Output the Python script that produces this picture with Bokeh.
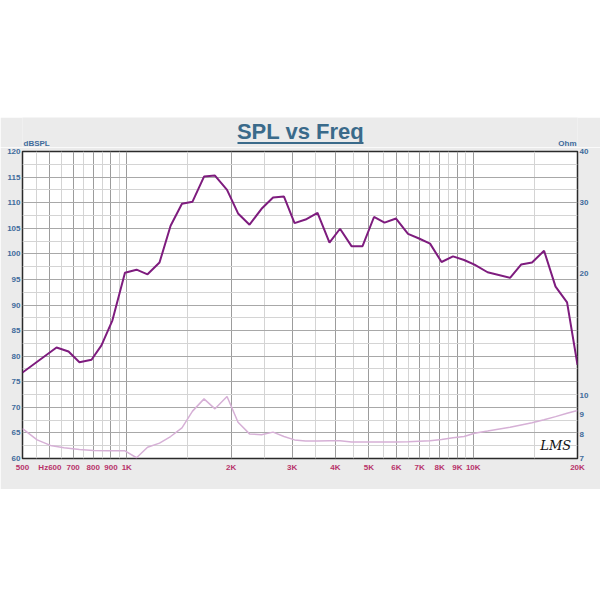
from bokeh.plotting import figure
from bokeh.layouts import column
from bokeh.models import (Range1d, LogScale, LogAxis, FixedTicker, Grid, Label, Spacer)
from bokeh.embed import file_html
from bokeh.resources import INLINE

# ---- data ----
spl_freq = [500, 627, 679, 730, 791, 845, 909, 988, 1067, 1148, 1243, 1338, 1443, 1548,
            1671, 1797, 1947, 2095, 2261, 2449, 2644, 2843, 3050, 3281, 3553, 3847, 4126,
            4453, 4792, 5172, 5546, 5987, 6484, 6976, 7507, 8102, 8745, 9410, 10085, 11002,
            12775, 13745, 14785, 16015, 17285, 18660, 20000]
spl_db = [76.8, 81.7, 80.9, 78.8, 79.3, 82.1, 87.0, 96.3, 96.9, 96.0, 98.3, 105.5, 109.8,
          110.2, 115.1, 115.3, 112.5, 107.9, 105.7, 108.8, 111.0, 111.2, 106.0, 106.7, 108.0,
          102.2, 104.9, 101.5, 101.5, 107.2, 106.1, 106.9, 103.9, 103.0, 102.0, 98.4, 99.5,
          98.8, 97.9, 96.4, 95.3, 97.9, 98.3, 100.6, 93.6, 90.5, 78.3]

imp_freq = [500, 551, 602, 659, 730, 801, 880, 988, 1067, 1148, 1243, 1338, 1443, 1548,
            1671, 1797, 1947, 2095, 2261, 2449, 2644, 2843, 3050, 3281, 3553, 3847, 4126,
            4453, 4792, 5172, 5546, 5987, 6484, 6976, 7507, 8102, 8745, 9410, 10085, 11002,
            12775, 13745, 14785, 16015, 17285, 18660, 20000]
imp_ohm = [8.29, 7.78, 7.54, 7.44, 7.37, 7.33, 7.32, 7.31, 7.03, 7.46, 7.64, 7.93, 8.33,
           9.16, 9.82, 9.28, 9.95, 8.60, 8.05, 8.01, 8.13, 7.93, 7.78, 7.73, 7.73, 7.74,
           7.74, 7.69, 7.69, 7.69, 7.69, 7.69, 7.70, 7.72, 7.74, 7.80, 7.87, 7.93, 8.08,
           8.18, 8.36, 8.47, 8.58, 8.72, 8.88, 9.05, 9.19]

x_ticks = [500, 600, 700, 800, 900, 1000, 2000, 3000, 4000, 5000, 6000, 7000, 8000, 9000,
           10000, 20000]
x_tick_labels = ["500", "Hz600", "700", "800", "900", "1K", "2K", "3K", "4K", "5K", "6K",
                 "7K", "8K", "9K", "10K", "20K"]
x_grid_major = [600, 700, 800, 900, 1000, 2000, 3000, 4000, 5000, 6000, 7000, 8000, 9000, 10000]
x_grid_minor = [550, 650, 750, 850, 950, 1500, 2500, 3500, 4500, 5500, 6500, 7500, 8500,
                9500, 15000]
y_ticks = [60, 65, 70, 75, 80, 85, 90, 95, 100, 105, 110, 115, 120]
y_grid_major = [65, 70, 75, 80, 85, 90, 95, 100, 105, 110, 115]
y_grid_minor = [62.5, 67.5, 72.5, 77.5, 82.5, 87.5, 92.5, 97.5, 102.5, 107.5, 112.5, 117.5]
ohm_ticks = [7, 8, 9, 10, 20, 30, 40]

title_text = "SPL vs Freq"
left_unit = "dBSPL"
right_unit = "Ohm"

# ---- styles ----
FONT = "Liberation Sans"
BLUE = "#3f6c9c"
RED = "#b8336a"
TITLE = "#3a6a8a"
GRAY = "#ebebeb"

# ---- header strip (title + unit labels); its frame is aligned with the chart frame ----
t = figure(width=600, height=30, x_range=Range1d(22, 577), y_range=Range1d(0, 30),
           x_axis_location=None, y_axis_location=None,
           output_backend="svg", toolbar_location=None,
           min_border=0, min_border_left=0, min_border_right=0,
           min_border_top=0, min_border_bottom=0)
t.grid.visible = False
t.outline_line_color = None
t.background_fill_color = GRAY
t.border_fill_color = GRAY
t.add_layout(Label(x=300, y=16.3, text=title_text, text_align="center",
                   text_baseline="middle", text_font=FONT, text_font_style="bold",
                   text_font_size="22px", text_color=TITLE))
t.line([237, 363], [4.5, 4.5], line_color=TITLE, line_width=2)
t.add_layout(Label(x=23, y=4.3, text=left_unit, text_align="left", text_baseline="middle",
                   text_font=FONT, text_font_style="bold", text_font_size="8px",
                   text_color=BLUE))
t.add_layout(Label(x=576, y=4.3, text=right_unit, text_align="right", text_baseline="middle",
                   text_font=FONT, text_font_style="bold", text_font_size="8px",
                   text_color=BLUE))

# ---- main chart ----
p = figure(width=600, height=342, x_axis_type="log",
           x_range=Range1d(500, 20000), y_range=Range1d(60, 120),
           output_backend="svg", toolbar_location=None,
           min_border_left=22, min_border_right=23, min_border_top=4, min_border_bottom=31)
p.border_fill_color = GRAY
p.background_fill_color = "white"
p.outline_line_color = "#2a2a2a"
p.outline_line_width = 1.5
p.xgrid.visible = False
p.ygrid.visible = False

def style_axis(ax, color, standoff):
    ax.major_tick_line_color = None
    ax.minor_tick_line_color = None
    ax.major_tick_out = 0
    ax.major_tick_in = 0
    ax.minor_tick_out = 0
    ax.minor_tick_in = 0
    ax.axis_line_color = None
    ax.major_label_standoff = standoff
    ax.major_label_text_font = FONT
    ax.major_label_text_font_style = "bold"
    ax.major_label_text_font_size = "8px"
    ax.major_label_text_color = color

xa = p.xaxis[0]
xa.ticker = FixedTicker(ticks=x_ticks)
xa.major_label_overrides = {tk: lb for tk, lb in zip(x_ticks, x_tick_labels)}
style_axis(xa, RED, 4)

ya = p.yaxis[0]
ya.ticker = FixedTicker(ticks=y_ticks)
style_axis(ya, BLUE, 2)

# grids
for ticks, col in ((x_grid_minor, "#d4d4d4"), (x_grid_major, "#9c9c9c")):
    p.add_layout(Grid(dimension=0, ticker=FixedTicker(ticks=ticks), grid_line_color=col,
                      grid_line_width=1))
for ticks, col in ((y_grid_minor, "#d4d4d4"), (y_grid_major, "#a8a8a8")):
    p.add_layout(Grid(dimension=1, ticker=FixedTicker(ticks=ticks), grid_line_color=col,
                      grid_line_width=1))

# impedance axis (right, log)
p.extra_y_ranges = {"ohm": Range1d(7, 40)}
p.extra_y_scales = {"ohm": LogScale()}
ra = LogAxis(y_range_name="ohm", ticker=FixedTicker(ticks=ohm_ticks))
ra.major_label_overrides = {tk: str(tk) for tk in ohm_ticks}
style_axis(ra, BLUE, 2)
p.add_layout(ra, "right")

# curves
p.line(imp_freq, imp_ohm, y_range_name="ohm", line_color="#d6b0d6", line_width=1.5)
p.line(spl_freq, spl_db, line_color="#7e1c7e", line_width=2)

# logo
p.add_layout(Label(x=17300, y=62.6, text="LMS", text_align="center", text_baseline="middle",
                   text_font="DejaVu Serif", text_font_style="italic",
                   text_font_size="13px", text_color="#111111"))

layout = column(Spacer(width=600, height=117), t, p, spacing=0)
open("out.html", "w").write(file_html(layout, INLINE))
